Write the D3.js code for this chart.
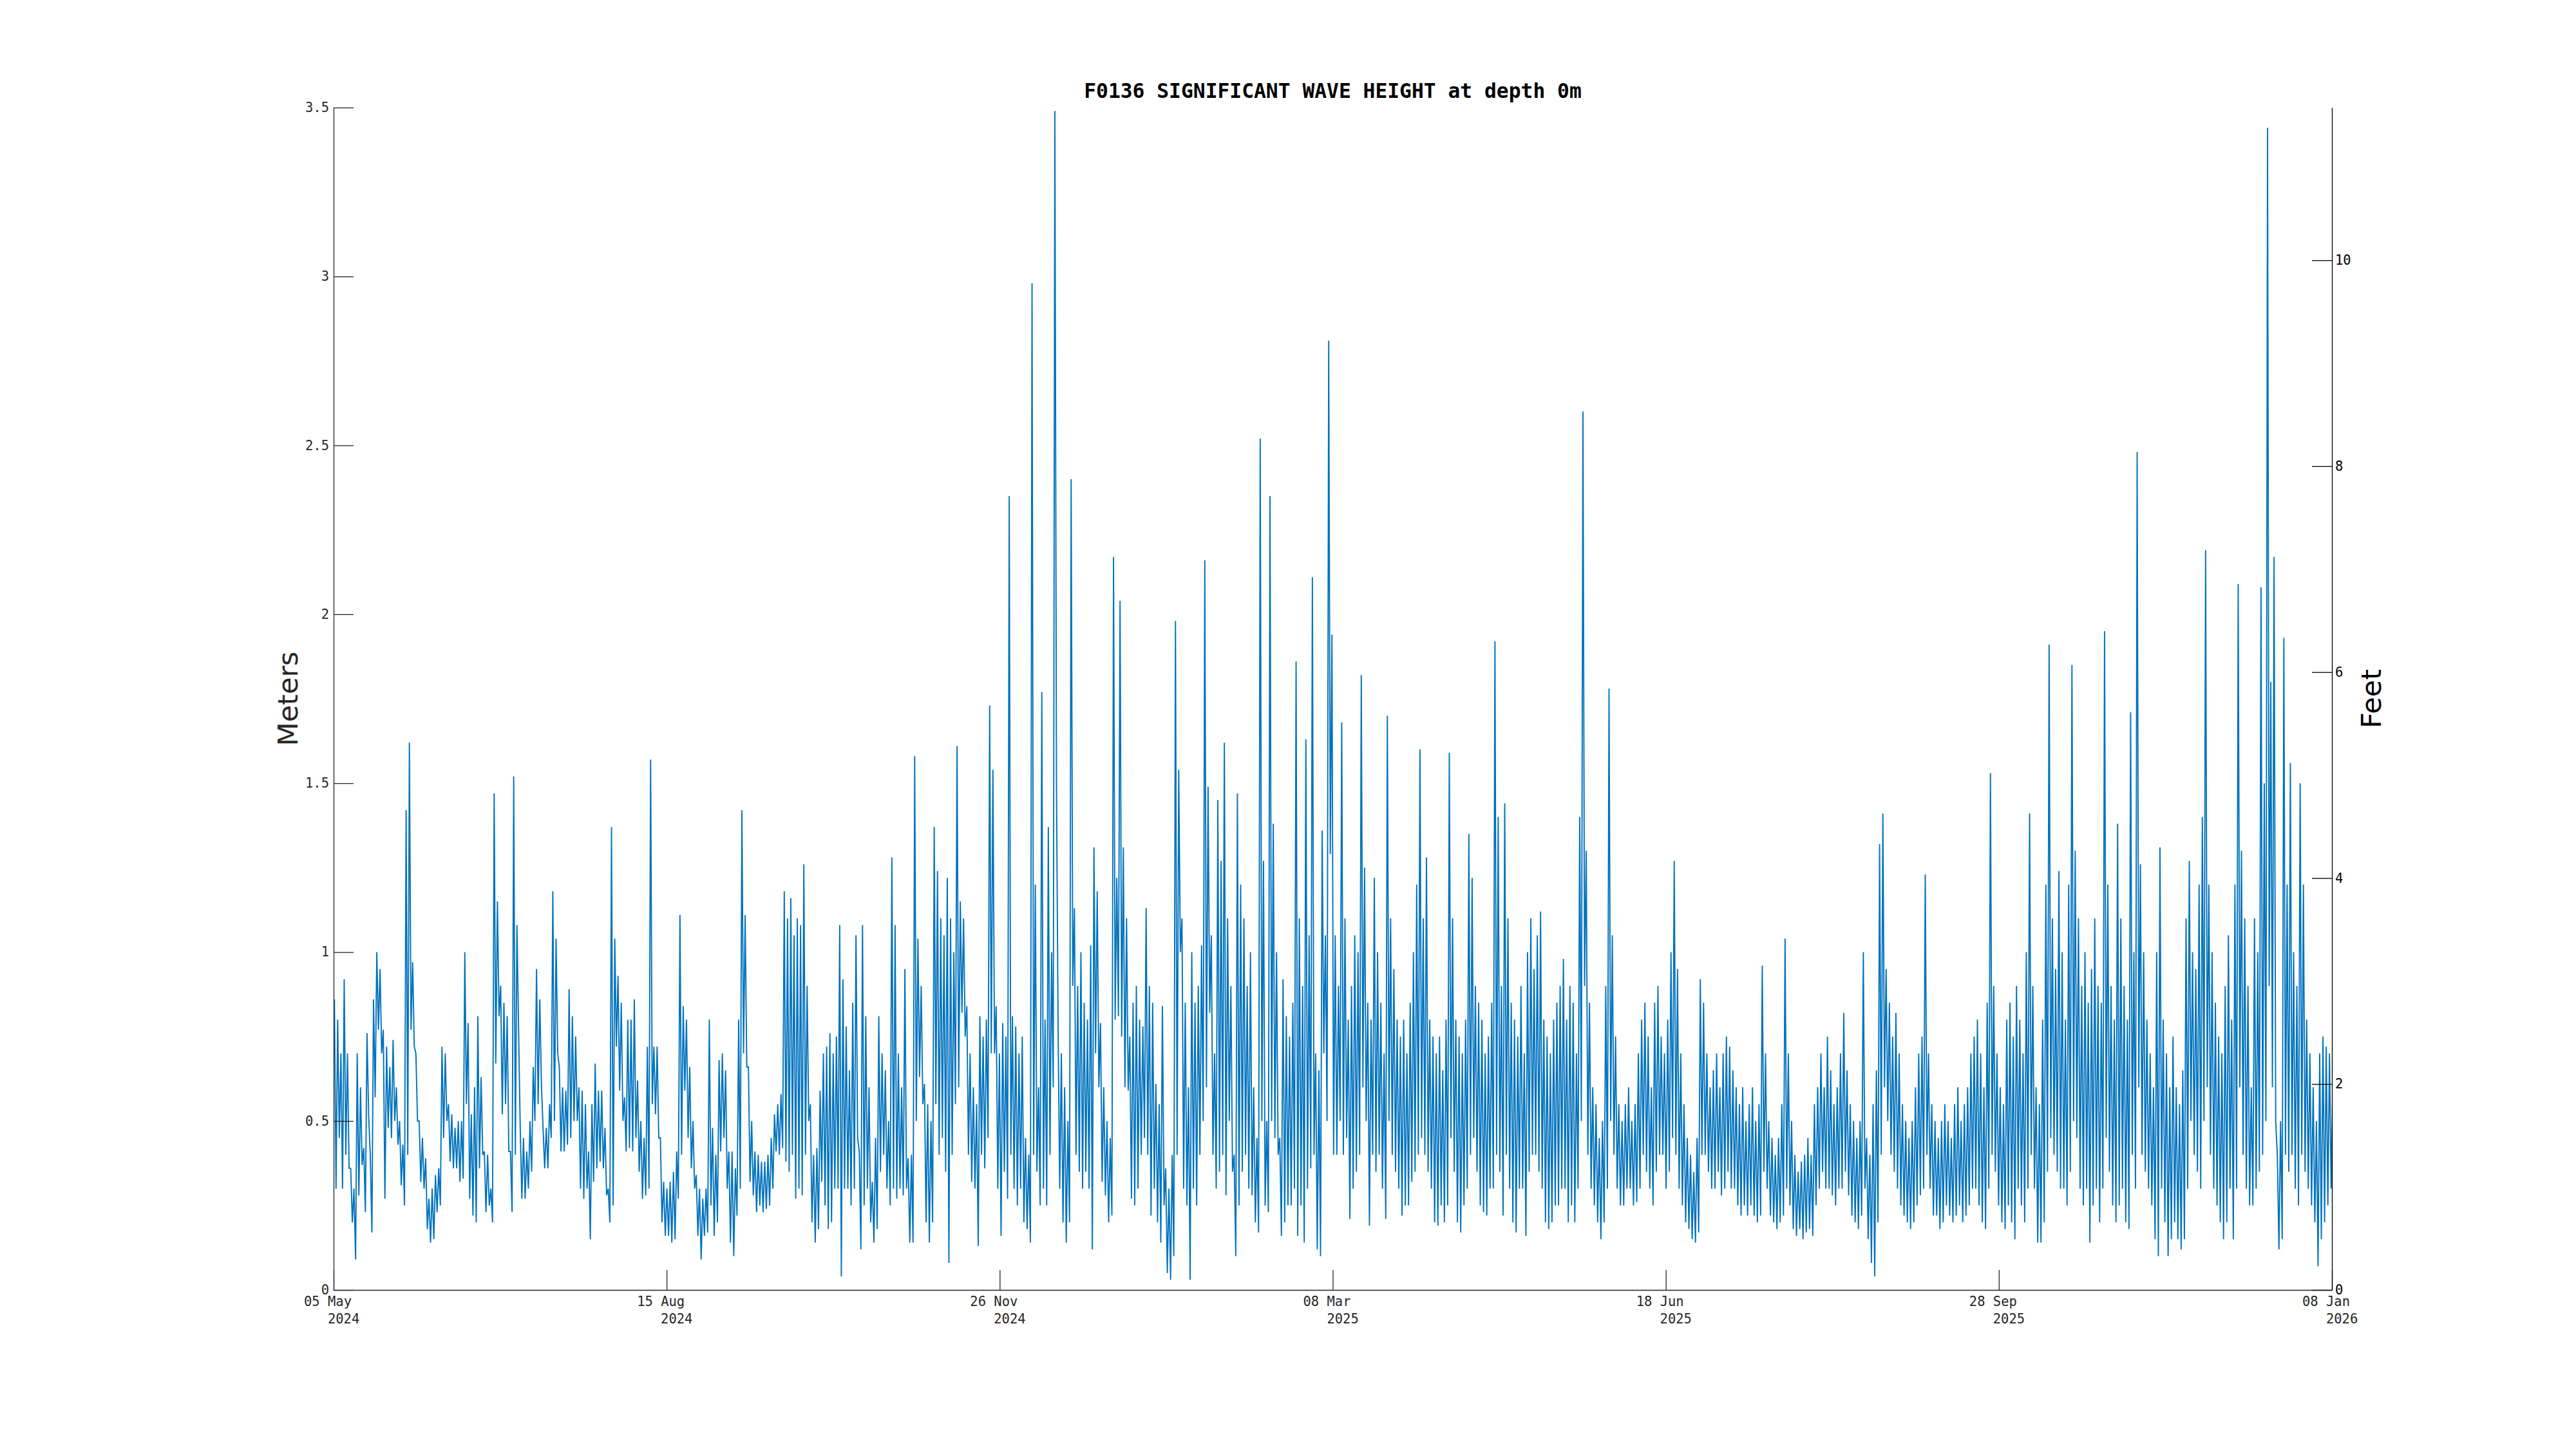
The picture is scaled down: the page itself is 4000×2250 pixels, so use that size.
<!DOCTYPE html>
<html>
<head>
<meta charset="utf-8">
<script src="https://cdn.jsdelivr.net/npm/d3@7"></script>
<style>
  body { margin: 0; background: #fff; }
</style>
</head>
<body>
<div id="chart"></div>
<script>
// daily max / min significant wave height (m), day 0 = 05 May 2024
var dailyHigh = [
0.86,0.80,0.70,0.92,0.70,0.36,0.30,0.70,0.60,0.42, 0.76,0.40,0.86,1.00,0.95,0.77,0.72,0.66,0.74,0.60,
0.50,0.43,1.42,1.62,0.97,0.70,0.50,0.45,0.39,0.27, 0.30,0.34,0.36,0.72,0.70,0.55,0.52,0.48,0.50,0.50,
1.00,0.79,0.52,0.60,0.81,0.63,0.41,0.40,0.30,1.47, 1.15,0.90,0.85,0.81,0.41,1.52,1.08,0.48,0.45,0.41,
0.50,0.66,0.95,0.86,0.48,0.48,0.55,1.18,1.04,0.66, 0.60,0.59,0.89,0.81,0.75,0.60,0.59,0.55,0.41,0.55,
0.67,0.59,0.59,0.48,0.30,1.37,1.04,0.93,0.85,0.57, 0.80,0.80,0.86,0.62,0.50,0.45,0.72,1.57,0.72,0.72,
0.45,0.32,0.30,0.32,0.35,0.41,1.11,0.84,0.80,0.66, 0.50,0.34,0.30,0.27,0.30,0.80,0.48,0.40,0.68,0.70,
0.65,0.41,0.41,0.36,0.80,1.42,1.11,0.66,0.50,0.41, 0.40,0.38,0.38,0.40,0.45,0.52,0.55,0.58,1.18,1.10,
1.16,1.05,1.10,1.08,1.26,0.90,0.55,0.40,0.42,0.59, 0.70,0.72,0.76,0.70,0.75,1.08,0.92,0.78,0.65,0.85,
1.05,0.41,1.08,0.81,0.60,0.32,0.45,0.81,0.70,0.65, 0.50,1.28,1.08,0.70,0.60,0.95,0.39,0.40,1.58,1.04,
0.90,0.61,0.55,0.50,1.37,1.24,1.10,1.05,1.22,1.10, 1.00,1.61,1.15,1.10,0.84,0.70,0.60,0.55,0.81,0.75,
0.80,1.73,1.54,0.84,0.70,0.79,0.75,2.35,0.81,0.78, 0.70,0.75,0.45,0.40,2.98,1.20,0.60,1.77,0.80,1.37,
1.00,3.49,0.77,0.70,0.60,0.50,2.40,1.13,0.90,1.00, 0.85,0.80,1.02,1.31,1.18,0.79,0.60,0.50,0.45,2.17,
1.22,2.04,1.31,1.10,0.75,0.85,0.90,0.80,0.78,1.13, 0.90,0.85,0.61,0.55,0.84,0.36,0.30,0.40,1.98,1.54,
1.10,0.85,0.60,1.00,0.85,0.90,1.02,2.16,1.49,1.05, 0.70,1.45,1.27,1.62,1.10,0.90,0.40,1.47,1.20,1.10,
0.90,1.00,0.60,0.45,2.52,1.27,0.50,2.35,1.38,1.00, 0.45,0.92,0.81,0.75,0.85,1.86,1.10,0.90,1.63,1.05,
2.11,0.70,0.65,1.36,1.05,2.81,1.94,1.05,0.90,1.68, 1.10,0.80,0.90,1.05,1.00,1.82,1.25,0.85,0.80,1.22,
1.00,0.85,0.70,1.70,1.10,0.95,0.80,0.75,0.80,0.70, 0.85,1.00,1.20,1.60,1.10,1.28,0.80,0.75,0.70,0.75,
0.65,0.80,1.59,1.10,0.80,0.75,0.70,0.80,1.35,1.22, 0.90,0.85,0.80,0.70,0.75,0.85,1.92,1.40,0.90,1.44,
1.10,0.85,0.80,0.75,0.90,0.70,1.00,1.10,0.95,1.05, 1.12,0.80,0.75,0.70,0.80,0.85,0.90,0.98,0.80,0.90,
0.85,0.70,1.40,2.60,1.30,0.85,0.60,0.55,0.45,0.50, 0.90,1.78,1.05,0.75,0.55,0.50,0.55,0.60,0.50,0.55,
0.70,0.80,0.85,0.75,0.60,0.85,0.90,0.75,0.70,0.80, 1.00,1.27,0.95,0.70,0.55,0.45,0.40,0.35,0.45,0.92,
0.85,0.70,0.60,0.65,0.70,0.60,0.70,0.75,0.72,0.65, 0.60,0.55,0.60,0.50,0.55,0.60,0.50,0.55,0.96,0.70,
0.50,0.45,0.40,0.45,0.55,1.04,0.70,0.50,0.40,0.35, 0.38,0.40,0.45,0.40,0.55,0.60,0.70,0.60,0.75,0.65,
0.55,0.60,0.70,0.82,0.65,0.55,0.50,0.45,0.50,1.00, 0.45,0.40,0.55,0.65,1.32,1.41,0.95,0.85,0.75,0.82,
0.70,0.55,0.50,0.45,0.50,0.60,0.70,0.75,1.23,0.70, 0.55,0.50,0.45,0.50,0.55,0.50,0.45,0.55,0.60,0.50,
0.55,0.60,0.70,0.75,0.80,0.70,0.60,0.85,1.53,0.90, 0.70,0.60,0.55,0.80,0.85,0.75,0.90,0.80,0.70,1.00,
1.41,0.90,0.60,0.55,0.80,1.20,1.91,1.10,0.95,1.24, 1.00,0.80,1.20,1.85,1.30,1.10,0.90,1.00,0.85,0.95,
1.10,0.90,0.85,1.95,1.20,0.90,0.80,1.38,1.10,0.90, 0.80,1.71,1.00,2.48,1.26,1.00,0.80,0.70,0.60,1.00,
1.31,0.80,0.70,0.60,0.75,0.60,0.55,0.65,1.10,1.27, 1.00,0.95,1.20,1.40,2.19,1.20,1.00,0.85,0.75,0.70,
0.90,1.05,0.80,1.20,2.09,1.30,1.10,0.90,0.60,1.10, 1.00,2.08,1.50,3.44,1.80,2.17,0.40,0.50,1.93,1.20,
1.56,1.00,0.90,1.50,1.20,0.80,0.70,0.60,0.50,0.70, 0.75,0.72,0.70,0.60
];
var dailyLow = [
0.30,0.45,0.30,0.40,0.36,0.20,0.09,0.28,0.37,0.23, 0.52,0.17,0.57,0.77,0.70,0.27,0.48,0.45,0.50,0.43,
0.31,0.25,0.40,0.77,0.72,0.50,0.32,0.30,0.18,0.14, 0.15,0.23,0.25,0.45,0.50,0.38,0.36,0.36,0.32,0.33,
0.55,0.27,0.22,0.20,0.36,0.40,0.23,0.25,0.20,0.67, 0.81,0.52,0.55,0.41,0.23,0.40,0.77,0.27,0.27,0.30,
0.35,0.50,0.55,0.61,0.36,0.36,0.45,0.50,0.70,0.41, 0.41,0.43,0.45,0.50,0.50,0.30,0.27,0.30,0.15,0.32,
0.36,0.38,0.36,0.28,0.20,0.25,0.72,0.59,0.50,0.41, 0.42,0.41,0.45,0.35,0.27,0.28,0.30,0.55,0.52,0.45,
0.20,0.16,0.16,0.14,0.15,0.27,0.40,0.59,0.45,0.36, 0.30,0.16,0.09,0.16,0.17,0.25,0.16,0.20,0.41,0.45,
0.30,0.14,0.10,0.22,0.30,0.70,0.66,0.32,0.28,0.23, 0.25,0.23,0.24,0.25,0.30,0.41,0.40,0.42,0.38,0.35,
0.40,0.27,0.30,0.28,0.40,0.50,0.20,0.14,0.18,0.32, 0.25,0.18,0.20,0.30,0.30,0.04,0.30,0.30,0.25,0.30,
0.45,0.12,0.25,0.30,0.20,0.14,0.18,0.35,0.40,0.30, 0.25,0.30,0.27,0.30,0.28,0.30,0.14,0.14,0.50,0.63,
0.55,0.20,0.14,0.20,0.55,0.40,0.45,0.35,0.08,0.40, 0.55,0.60,0.82,0.75,0.40,0.32,0.30,0.13,0.40,0.36,
0.45,0.70,0.70,0.30,0.16,0.35,0.27,0.40,0.30,0.25, 0.30,0.20,0.18,0.14,0.40,0.35,0.25,0.30,0.25,0.40,
0.60,1.50,0.30,0.20,0.14,0.20,0.90,0.40,0.35,0.30, 0.35,0.30,0.12,0.70,0.60,0.32,0.28,0.20,0.22,0.80,
0.81,0.75,0.60,0.59,0.27,0.25,0.30,0.40,0.45,0.40, 0.22,0.30,0.20,0.14,0.25,0.05,0.03,0.10,0.40,1.00,
0.30,0.25,0.03,0.30,0.25,0.40,0.50,0.60,0.82,0.40, 0.30,0.35,0.40,0.28,0.50,0.35,0.10,0.25,0.35,0.40,
0.30,0.28,0.20,0.17,0.50,0.25,0.23,0.50,0.45,0.40, 0.16,0.20,0.25,0.25,0.30,0.16,0.25,0.14,0.30,0.36,
0.40,0.12,0.10,0.70,0.50,1.29,0.40,0.40,0.50,0.40, 0.45,0.21,0.30,0.35,0.40,0.60,0.50,0.19,0.40,0.35,
0.40,0.30,0.21,0.50,0.40,0.35,0.30,0.22,0.25,0.25, 0.32,0.35,0.40,0.45,0.40,0.35,0.30,0.20,0.19,0.25,
0.20,0.25,0.45,0.35,0.20,0.17,0.25,0.30,0.40,0.45, 0.35,0.25,0.23,0.22,0.30,0.30,0.40,0.35,0.22,0.40,
0.30,0.20,0.17,0.30,0.30,0.16,0.35,0.40,0.40,0.35, 0.30,0.20,0.18,0.20,0.25,0.25,0.30,0.30,0.20,0.25,
0.20,0.30,0.50,0.90,0.40,0.30,0.25,0.20,0.15,0.20, 0.30,0.50,0.40,0.30,0.25,0.25,0.30,0.30,0.25,0.26,
0.30,0.40,0.35,0.30,0.25,0.35,0.40,0.40,0.30,0.35, 0.45,0.40,0.30,0.25,0.20,0.18,0.15,0.14,0.17,0.40,
0.40,0.35,0.30,0.30,0.35,0.28,0.30,0.35,0.30,0.30, 0.25,0.22,0.25,0.22,0.25,0.22,0.20,0.22,0.35,0.30,
0.22,0.20,0.18,0.20,0.22,0.30,0.25,0.18,0.16,0.18, 0.15,0.17,0.18,0.16,0.25,0.30,0.35,0.30,0.30,0.28,
0.25,0.30,0.30,0.35,0.28,0.22,0.20,0.18,0.22,0.30, 0.15,0.08,0.04,0.20,0.40,0.60,0.50,0.40,0.35,0.30,
0.25,0.22,0.20,0.18,0.20,0.25,0.28,0.30,0.40,0.30, 0.22,0.22,0.18,0.20,0.25,0.22,0.20,0.22,0.25,0.20,
0.22,0.25,0.30,0.30,0.25,0.20,0.18,0.30,0.40,0.35, 0.25,0.20,0.18,0.25,0.20,0.15,0.30,0.25,0.20,0.30,
0.40,0.30,0.14,0.14,0.20,0.35,0.45,0.40,0.35,0.30, 0.30,0.25,0.35,0.50,0.45,0.30,0.25,0.30,0.14,0.25,
0.30,0.20,0.30,0.45,0.35,0.25,0.20,0.25,0.30,0.20, 0.18,0.40,0.30,0.60,0.40,0.35,0.30,0.25,0.15,0.10,
0.30,0.20,0.10,0.15,0.20,0.15,0.12,0.15,0.30,0.50, 0.40,0.35,0.30,0.50,0.60,0.40,0.30,0.25,0.20,0.15,
0.20,0.30,0.15,0.30,0.60,0.40,0.30,0.25,0.25,0.30, 0.35,0.40,0.50,0.90,0.60,0.50,0.12,0.15,0.40,0.35,
0.40,0.30,0.25,0.40,0.35,0.30,0.25,0.20,0.07,0.15, 0.20,0.25,0.30,0.35
];

var meterTicks = [0, 0.5, 1, 1.5, 2, 2.5, 3, 3.5];
var feetTicks = [0, 2, 4, 6, 8, 10];
var dateTickLabels = [["05 May", "2024"], ["15 Aug", "2024"], ["26 Nov", "2024"], ["08 Mar", "2025"],
                      ["18 Jun", "2025"], ["28 Sep", "2025"], ["08 Jan", "2026"]];
var startDate = Date.UTC(2024, 4, 5);
var endDate = Date.UTC(2026, 0, 8);
var titleText = "F0136 SIGNIFICANT WAVE HEIGHT at depth 0m";

var width = 4000, height = 2250;
var margin = {top: 167, right: 379, bottom: 247, left: 518};
var DAY = 86400000;
var mono = "'DejaVu Sans Mono', monospace";
var axisColor = "#262626";

var svg = d3.select("#chart").append("svg")
    .attr("width", width).attr("height", height)
    .style("background", "#fff");

var x = d3.scaleUtc()
    .domain([new Date(startDate), new Date(endDate)])
    .range([margin.left, width - margin.right]);
var y = d3.scaleLinear().domain([0, 3.5]).range([height - margin.bottom, margin.top]);
var yFeet = d3.scaleLinear().domain([0, 3.5 / 0.3048]).range(y.range());

// two samples per day: the high, then the low
var samples = [];
dailyHigh.forEach(function(h, i) {
    samples.push({t: new Date(startDate + (i + 0.25) * DAY), v: h});
    samples.push({t: new Date(startDate + (i + 0.75) * DAY), v: dailyLow[i]});
});

svg.append("clipPath").attr("id", "plotclip")
  .append("rect")
    .attr("x", x.range()[0]).attr("y", y.range()[1] - 5)
    .attr("width", x.range()[1] - x.range()[0])
    .attr("height", y.range()[0] - y.range()[1] + 5);

var line = d3.line()
    .x(function(d) { return x(d.t); })
    .y(function(d) { return y(d.v); });

svg.append("path")
    .datum(samples)
    .attr("clip-path", "url(#plotclip)")
    .attr("d", line)
    .style("fill", "none")
    .style("stroke", "#0072BD")
    .style("stroke-width", 1.9)
    .style("stroke-linejoin", "miter");

// date ticks split the span evenly (MATLAB style)
var xTickDates = dateTickLabels.map(function(d, i) {
    return new Date(startDate + i * (endDate - startDate) / (dateTickLabels.length - 1));
});

var xAxis = d3.axisBottom(x).tickValues(xTickDates).tickFormat("")
    .tickSizeInner(-31).tickSizeOuter(0);
var gx = svg.append("g")
    .attr("class", "x axis")
    .attr("transform", "translate(0," + y.range()[0] + ")")
    .call(xAxis);
gx.selectAll("line, path").style("stroke", axisColor).style("stroke-width", 1.3);

var cw = 12.3;
var xlab = svg.append("g").attr("class", "x labels")
    .style("font-family", mono).style("font-size", "20.5px").style("fill", axisColor);
xTickDates.forEach(function(t, i) {
    var x0 = x(t) - 46;
    xlab.append("text").attr("x", x0).attr("y", y.range()[0] + 25).text(dateTickLabels[i][0]);
    xlab.append("text").attr("x", x0 + 3 * cw).attr("y", y.range()[0] + 52).text(dateTickLabels[i][1]);
});

var yAxis = d3.axisLeft(y).tickValues(meterTicks).tickFormat(d3.format("~g"))
    .tickSizeInner(-31).tickSizeOuter(0).tickPadding(7);
var gy = svg.append("g")
    .attr("class", "y axis")
    .attr("transform", "translate(" + x.range()[0] + ",0)")
    .call(yAxis);
gy.selectAll("line, path").style("stroke", axisColor).style("stroke-width", 1.3);
gy.selectAll("text").style("font-family", mono).style("font-size", "20.5px").style("fill", axisColor);

var yAxisR = d3.axisRight(yFeet).tickValues(feetTicks)
    .tickSizeInner(-31).tickSizeOuter(0).tickPadding(5);
var gyr = svg.append("g")
    .attr("class", "y2 axis")
    .attr("transform", "translate(" + x.range()[1] + ",0)")
    .call(yAxisR);
gyr.selectAll("line, path").style("stroke", "#000").style("stroke-width", 1.3);
gyr.selectAll("text").style("font-family", mono).style("font-size", "20.5px").style("fill", "#000");

svg.append("text")
    .attr("x", (x.range()[0] + x.range()[1]) / 2)
    .attr("y", 152)
    .attr("text-anchor", "middle")
    .style("font-family", mono)
    .style("font-weight", "bold")
    .style("font-size", "31.3px")
    .style("fill", "#000")
    .text(titleText);

var midY = (y.range()[0] + y.range()[1]) / 2;
svg.append("text")
    .attr("transform", "translate(462," + midY + ") rotate(-90)")
    .attr("text-anchor", "middle")
    .style("font-family", "'DejaVu Sans', sans-serif")
    .style("font-size", "43px")
    .style("fill", axisColor)
    .text("Meters");

svg.append("text")
    .attr("transform", "translate(3697," + midY + ") rotate(-90)")
    .attr("text-anchor", "middle")
    .style("font-family", "'DejaVu Sans', sans-serif")
    .style("font-size", "43px")
    .style("fill", "#000")
    .text("Feet");
</script>
</body>
</html>
